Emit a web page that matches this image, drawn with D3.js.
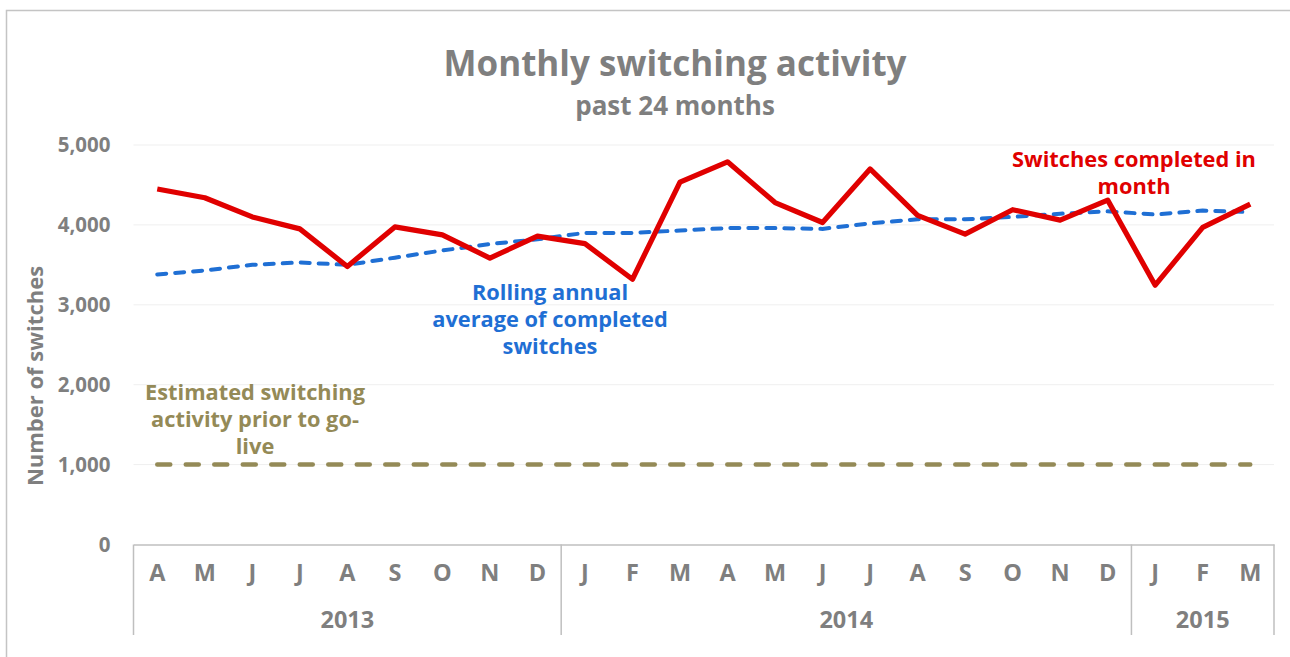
<!DOCTYPE html>
<html>
<head>
<meta charset="utf-8">
<script src="https://cdn.jsdelivr.net/npm/d3@7"></script>
<style>
  body { margin: 0; background: #fff; }
  svg { display: block; font-family: "Open Sans", sans-serif; }
</style>
</head>
<body>
<div id="chart"></div>
<script>
// chart data
const months = ["A","M","J","J","A","S","O","N","D","J","F","M","A","M","J","J","A","S","O","N","D","J","F","M"];
const years = [
  { label: "2013", start: 0, end: 9 },
  { label: "2014", start: 9, end: 21 },
  { label: "2015", start: 21, end: 24 }
];
const completed = [4450, 4340, 4100, 3950, 3480, 3975, 3875, 3585, 3860, 3765, 3320, 4535, 4790, 4280, 4030, 4700, 4120, 3885, 4190, 4060, 4310, 3245, 3970, 4260];
const rolling = [3380, 3430, 3500, 3530, 3500, 3590, 3680, 3760, 3820, 3900, 3900, 3930, 3960, 3960, 3950, 4020, 4070, 4070, 4100, 4140, 4170, 4130, 4180, 4160];
const baseline = 1000;
const yTicks = [0, 1000, 2000, 3000, 4000, 5000];

const width = 1290, height = 657;
const margin = { top: 145, right: 16, bottom: 112.5, left: 133.5 };
const grey = "#7f7f7f";
const red = "#e00000";
const blue = "#1f6fd4";
const olive = "#948a57";

const svg = d3.select("#chart").append("svg")
  .attr("width", width)
  .attr("height", height);

// outer frame
svg.append("rect")
  .attr("x", 6.5).attr("y", 10.5)
  .attr("width", width).attr("height", height)
  .attr("fill", "none").attr("stroke", "#c4c4c4").attr("stroke-width", 1.5);

const x = d3.scaleBand()
  .domain(d3.range(months.length))
  .range([margin.left, width - margin.right]);

const y = d3.scaleLinear()
  .domain([0, 5000])
  .range([height - margin.bottom, margin.top]);

const cx = i => x(i) + x.bandwidth() / 2;

// gridlines
svg.append("g")
  .selectAll("line")
  .data(yTicks.filter(d => d > 0))
  .join("line")
    .attr("x1", margin.left).attr("x2", width - margin.right)
    .attr("y1", d => y(d)).attr("y2", d => y(d))
    .attr("stroke", "#efefef").attr("stroke-width", 1);

// y axis labels
const yAxis = g => g
  .attr("transform", `translate(${margin.left},0)`)
  .call(d3.axisLeft(y).tickValues(yTicks).tickFormat(d3.format(",")).tickSize(0).tickPadding(23))
  .call(g => g.select(".domain").remove())
  .call(g => g.selectAll("text")
    .attr("fill", grey)
    .style("font", "bold 20.5px 'Open Sans', sans-serif"));
svg.append("g").call(yAxis);

// y title
svg.append("text")
  .attr("transform", `translate(43,376) rotate(-90)`)
  .attr("text-anchor", "middle")
  .attr("fill", grey)
  .style("font", "bold 22px 'Open Sans', sans-serif")
  .text("Number of switches");

// x axis: month labels
const y0 = y(0);
const xAxis = g => g
  .attr("transform", `translate(0,${y0})`)
  .call(d3.axisBottom(x).tickFormat(i => months[i]).tickSize(0).tickPadding(20))
  .call(g => g.select(".domain").attr("stroke", "#bfbfbf").attr("stroke-width", 1.5))
  .call(g => g.selectAll("text")
    .attr("fill", grey)
    .style("font", "bold 23.5px 'Open Sans', sans-serif"));
svg.append("g").call(xAxis);

// year group separators and labels
const xEdge = i => i < months.length ? x(i) : x.range()[1];
const bounds = [0].concat(years.map(d => d.end));
svg.append("g")
  .selectAll("line")
  .data(bounds)
  .join("line")
    .attr("x1", d => xEdge(d)).attr("x2", d => xEdge(d))
    .attr("y1", y0).attr("y2", 635)
    .attr("stroke", "#bfbfbf").attr("stroke-width", 1.5);

svg.append("g")
  .selectAll("text")
  .data(years)
  .join("text")
    .attr("x", d => (xEdge(d.start) + xEdge(d.end)) / 2)
    .attr("y", 628)
    .attr("text-anchor", "middle")
    .attr("fill", grey)
    .style("font", "bold 23.5px 'Open Sans', sans-serif")
    .text(d => d.label);

// baseline (pre go-live estimate)
svg.append("line")
  .attr("x1", cx(0)).attr("x2", cx(months.length - 1))
  .attr("y1", y(baseline)).attr("y2", y(baseline))
  .attr("stroke", olive).attr("stroke-width", 4.5)
  .attr("stroke-linecap", "round")
  .attr("stroke-dasharray", "13,15.5");

const line = d3.line()
  .x((d, i) => cx(i))
  .y(d => y(d));

// rolling average
svg.append("path")
  .datum(rolling)
  .attr("d", line)
  .attr("fill", "none")
  .attr("stroke", blue).attr("stroke-width", 4)
  .attr("stroke-linecap", "round")
  .attr("stroke-dasharray", "9,9");

// completed switches
svg.append("path")
  .datum(completed)
  .attr("d", line)
  .attr("fill", "none")
  .attr("stroke", red).attr("stroke-width", 5.2)
  .attr("stroke-linejoin", "round");

// titles
svg.append("text")
  .attr("x", 675).attr("y", 76)
  .attr("text-anchor", "middle")
  .attr("fill", grey)
  .style("font", "bold 35px 'Open Sans', sans-serif")
  .text("Monthly switching activity");
svg.append("text")
  .attr("x", 675).attr("y", 114.5)
  .attr("text-anchor", "middle")
  .attr("fill", grey)
  .style("font", "bold 26px 'Open Sans', sans-serif")
  .text("past 24 months");

// series annotations
const notes = [
  { lines: ["Switches completed in", "month"], x: 1134, y: 167, color: red },
  { lines: ["Rolling annual", "average of completed", "switches"], x: 550, y: 300, color: blue },
  { lines: ["Estimated switching", "activity prior to go-", "live"], x: 255, y: 400, color: olive }
];
notes.forEach(n => {
  const t = svg.append("text")
    .attr("text-anchor", "middle")
    .attr("fill", n.color)
    .style("font", "bold 21.8px 'Open Sans', sans-serif");
  n.lines.forEach((l, i) => {
    t.append("tspan").attr("x", n.x).attr("y", n.y + i * 27).text(l);
  });
});
</script>
</body>
</html>
